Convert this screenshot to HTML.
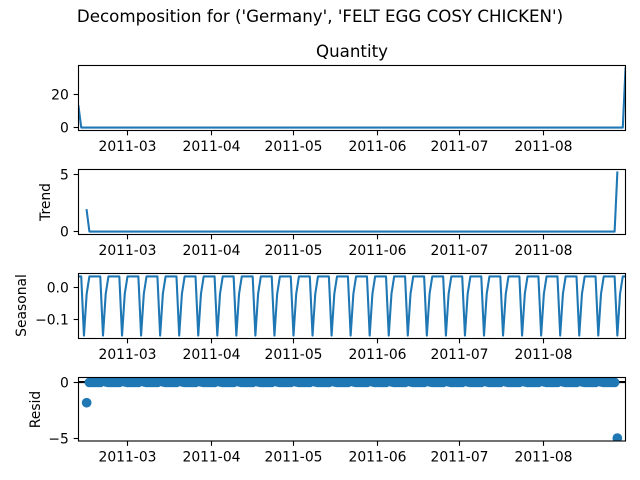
<!DOCTYPE html>
<html>
<head>
<meta charset="utf-8">
<title>Decomposition chart</title>
<style>
html,body{margin:0;padding:0;background:#fff;}
svg{display:block;font-family:"DejaVu Sans","Liberation Sans",sans-serif;}
</style>
</head>
<body>
<svg id="chart" xmlns="http://www.w3.org/2000/svg" width="640" height="480" viewBox="0 0 640 480">
<text x="320" y="22" text-anchor="middle" font-size="16.67" fill="#000">Decomposition for ('Germany', 'FELT EGG COSY CHICKEN')</text>
<text x="352" y="57" text-anchor="middle" font-size="16.67" fill="#000">Quantity</text>
<text transform="translate(50,202) rotate(-90)" text-anchor="middle" font-size="13.89" fill="#000">Trend</text>
<text transform="translate(26,305.5) rotate(-90)" text-anchor="middle" font-size="13.89" fill="#000">Seasonal</text>
<text transform="translate(40,409.5) rotate(-90)" text-anchor="middle" font-size="13.89" fill="#000">Resid</text>
</svg>
<script>
const startDate = '2011-02-11';
const xTickDates = ['2011-03-01','2011-04-01','2011-05-01','2011-06-01','2011-07-01','2011-08-01'];
const xTickLabels = ['2011-03','2011-04','2011-05','2011-06','2011-07','2011-08'];

const quantityTicks = [0, 20];
const quantityTickLabels = ['0', '20'];
const trendTicks = [0, 5];
const trendTickLabels = ['0', '5'];
const seasonalTicks = [0, -0.1];
const seasonalTickLabels = ['0.0', '\u22120.1'];
const residTicks = [0, -5];
const residTickLabels = ['0', '\u22125'];

const quantityValues = [
13,0,0,0,0,0,0,
0,0,0,0,0,0,0,
0,0,0,0,0,0,0,
0,0,0,0,0,0,0,
0,0,0,0,0,0,0,
0,0,0,0,0,0,0,
0,0,0,0,0,0,0,
0,0,0,0,0,0,0,
0,0,0,0,0,0,0,
0,0,0,0,0,0,0,
0,0,0,0,0,0,0,
0,0,0,0,0,0,0,
0,0,0,0,0,0,0,
0,0,0,0,0,0,0,
0,0,0,0,0,0,0,
0,0,0,0,0,0,0,
0,0,0,0,0,0,0,
0,0,0,0,0,0,0,
0,0,0,0,0,0,0,
0,0,0,0,0,0,0,
0,0,0,0,0,0,0,
0,0,0,0,0,0,0,
0,0,0,0,0,0,0,
0,0,0,0,0,0,0,
0,0,0,0,0,0,0,
0,0,0,0,0,0,0,
0,0,0,0,0,0,0,
0,0,0,0,0,0,0,
0,0,0,0,0,36];

const trendValues = [
null,null,null,1.857,0,0,0,
0,0,0,0,0,0,0,
0,0,0,0,0,0,0,
0,0,0,0,0,0,0,
0,0,0,0,0,0,0,
0,0,0,0,0,0,0,
0,0,0,0,0,0,0,
0,0,0,0,0,0,0,
0,0,0,0,0,0,0,
0,0,0,0,0,0,0,
0,0,0,0,0,0,0,
0,0,0,0,0,0,0,
0,0,0,0,0,0,0,
0,0,0,0,0,0,0,
0,0,0,0,0,0,0,
0,0,0,0,0,0,0,
0,0,0,0,0,0,0,
0,0,0,0,0,0,0,
0,0,0,0,0,0,0,
0,0,0,0,0,0,0,
0,0,0,0,0,0,0,
0,0,0,0,0,0,0,
0,0,0,0,0,0,0,
0,0,0,0,0,0,0,
0,0,0,0,0,0,0,
0,0,0,0,0,0,0,
0,0,0,0,0,0,0,
0,0,0,0,0,0,0,
0,0,5.143,null,null,null];

const seasonalValues = [
.0336,.0336,-.148,-.02,.0336,.0336,.0336,
.0336,.0336,-.148,-.02,.0336,.0336,.0336,
.0336,.0336,-.148,-.02,.0336,.0336,.0336,
.0336,.0336,-.148,-.02,.0336,.0336,.0336,
.0336,.0336,-.148,-.02,.0336,.0336,.0336,
.0336,.0336,-.148,-.02,.0336,.0336,.0336,
.0336,.0336,-.148,-.02,.0336,.0336,.0336,
.0336,.0336,-.148,-.02,.0336,.0336,.0336,
.0336,.0336,-.148,-.02,.0336,.0336,.0336,
.0336,.0336,-.148,-.02,.0336,.0336,.0336,
.0336,.0336,-.148,-.02,.0336,.0336,.0336,
.0336,.0336,-.148,-.02,.0336,.0336,.0336,
.0336,.0336,-.148,-.02,.0336,.0336,.0336,
.0336,.0336,-.148,-.02,.0336,.0336,.0336,
.0336,.0336,-.148,-.02,.0336,.0336,.0336,
.0336,.0336,-.148,-.02,.0336,.0336,.0336,
.0336,.0336,-.148,-.02,.0336,.0336,.0336,
.0336,.0336,-.148,-.02,.0336,.0336,.0336,
.0336,.0336,-.148,-.02,.0336,.0336,.0336,
.0336,.0336,-.148,-.02,.0336,.0336,.0336,
.0336,.0336,-.148,-.02,.0336,.0336,.0336,
.0336,.0336,-.148,-.02,.0336,.0336,.0336,
.0336,.0336,-.148,-.02,.0336,.0336,.0336,
.0336,.0336,-.148,-.02,.0336,.0336,.0336,
.0336,.0336,-.148,-.02,.0336,.0336,.0336,
.0336,.0336,-.148,-.02,.0336,.0336,.0336,
.0336,.0336,-.148,-.02,.0336,.0336,.0336,
.0336,.0336,-.148,-.02,.0336,.0336,.0336,
.0336,.0336,-.148,-.02,.0336,.0336];

const residValues = [
null,null,null,-1.84,-.0336,-.0336,-.0336,
-.0336,-.0336,.148,.02,-.0336,-.0336,-.0336,
-.0336,-.0336,.148,.02,-.0336,-.0336,-.0336,
-.0336,-.0336,.148,.02,-.0336,-.0336,-.0336,
-.0336,-.0336,.148,.02,-.0336,-.0336,-.0336,
-.0336,-.0336,.148,.02,-.0336,-.0336,-.0336,
-.0336,-.0336,.148,.02,-.0336,-.0336,-.0336,
-.0336,-.0336,.148,.02,-.0336,-.0336,-.0336,
-.0336,-.0336,.148,.02,-.0336,-.0336,-.0336,
-.0336,-.0336,.148,.02,-.0336,-.0336,-.0336,
-.0336,-.0336,.148,.02,-.0336,-.0336,-.0336,
-.0336,-.0336,.148,.02,-.0336,-.0336,-.0336,
-.0336,-.0336,.148,.02,-.0336,-.0336,-.0336,
-.0336,-.0336,.148,.02,-.0336,-.0336,-.0336,
-.0336,-.0336,.148,.02,-.0336,-.0336,-.0336,
-.0336,-.0336,.148,.02,-.0336,-.0336,-.0336,
-.0336,-.0336,.148,.02,-.0336,-.0336,-.0336,
-.0336,-.0336,.148,.02,-.0336,-.0336,-.0336,
-.0336,-.0336,.148,.02,-.0336,-.0336,-.0336,
-.0336,-.0336,.148,.02,-.0336,-.0336,-.0336,
-.0336,-.0336,.148,.02,-.0336,-.0336,-.0336,
-.0336,-.0336,.148,.02,-.0336,-.0336,-.0336,
-.0336,-.0336,.148,.02,-.0336,-.0336,-.0336,
-.0336,-.0336,.148,.02,-.0336,-.0336,-.0336,
-.0336,-.0336,.148,.02,-.0336,-.0336,-.0336,
-.0336,-.0336,.148,.02,-.0336,-.0336,-.0336,
-.0336,-.0336,.148,.02,-.0336,-.0336,-.0336,
-.0336,-.0336,.148,.02,-.0336,-.0336,-.0336,
-.0336,-.0336,-4.99,null,null,null];

const SVG_NS = 'http://www.w3.org/2000/svg';
const chart = document.getElementById('chart');
const BLUE = '#1f77b4';
const plotLeft = 78.5;
const plotRight = 625.5;
const DAY_MS = 86400000;
const startMs = Date.parse(startDate + 'T00:00:00Z');
const xSpanDays = quantityValues.length - 1;

function make(tag, attrs, parent, text) {
  const node = document.createElementNS(SVG_NS, tag);
  for (const key in attrs) node.setAttribute(key, attrs[key]);
  if (text !== undefined) node.textContent = text;
  (parent || chart).appendChild(node);
  return node;
}
function xByIndex(i) {
  return plotLeft + (i / xSpanDays) * (plotRight - plotLeft);
}
function xByDate(dateText) {
  return xByIndex((Date.parse(dateText + 'T00:00:00Z') - startMs) / DAY_MS);
}
function yScale(panel, v) {
  return panel.bottom - (v - panel.min) / (panel.max - panel.min) * (panel.bottom - panel.top);
}
function snap(v) {
  return Math.floor(v) + 0.5;
}

const panels = [
  {key: 'quantity', top: 65.5, bottom: 130.5, min: -1.8, max: 37.8, ticks: quantityTicks, labels: quantityTickLabels, values: quantityValues, kind: 'line'},
  {key: 'trend', top: 169.5, bottom: 234.5, min: -0.257, max: 5.4, ticks: trendTicks, labels: trendTickLabels, values: trendValues, kind: 'line'},
  {key: 'seasonal', top: 273.5, bottom: 338.5, min: -0.157, max: 0.0426, ticks: seasonalTicks, labels: seasonalTickLabels, values: seasonalValues, kind: 'line'},
  {key: 'resid', top: 377.5, bottom: 441, min: -5.247, max: 0.405, ticks: residTicks, labels: residTickLabels, values: residValues, kind: 'dots'}
];

const defs = make('defs', {});
panels.forEach(function (panel) {
  const clip = make('clipPath', {id: 'clip-' + panel.key}, defs);
  make('rect', {x: plotLeft, y: panel.top, width: plotRight - plotLeft, height: panel.bottom - panel.top}, clip);

  const group = make('g', {});
  
  

  const marks = make('g', {'clip-path': 'url(#clip-' + panel.key + ')'}, group);
  
  

  if (panel.kind === 'line') {
    let d = '';
    let pen = false;
    panel.values.forEach(function (v, i) {
      if (v === null) { pen = false; return; }
      d += (pen ? 'L' : 'M') + xByIndex(i).toFixed(2) + ' ' + yScale(panel, v).toFixed(2);
      pen = true;
    });
    const line = make('path', {d: d, fill: 'none', stroke: BLUE, 'stroke-width': 2.08, 'stroke-linejoin': 'round', 'stroke-linecap': 'square'}, marks);
    
    
  } else {
    const zeroLine = make('line', {x1: plotLeft, x2: plotRight, y1: yScale(panel, 0), y2: yScale(panel, 0), stroke: '#000', 'stroke-width': 2.08}, marks);
    
    
    panel.values.forEach(function (v, i) {
      if (v === null) return;
      const dot = make('circle', {cx: xByIndex(i).toFixed(2), cy: yScale(panel, v).toFixed(2), r: 4.86, fill: BLUE}, marks);
      
      
    });
  }

  const frame = make('rect', {x: plotLeft, y: panel.top, width: plotRight - plotLeft, height: panel.bottom - panel.top, fill: 'none', stroke: '#000', 'stroke-width': 1.11}, group);
  
  

  xTickDates.forEach(function (dateText, i) {
    const x = snap(xByDate(dateText));
    const tick = make('line', {x1: x, x2: x, y1: panel.bottom, y2: panel.bottom + 4.86, stroke: '#000', 'stroke-width': 1.11}, group);
    
    
    const label = make('text', {x: x, y: panel.bottom + 20.5, 'text-anchor': 'middle', 'font-size': 13.89, fill: '#000'}, group, xTickLabels[i]);
    
    
  });

  panel.ticks.forEach(function (v, i) {
    const y = snap(yScale(panel, v));
    const tick = make('line', {x1: plotLeft - 4.86, x2: plotLeft, y1: y, y2: y, stroke: '#000', 'stroke-width': 1.11}, group);
    
    
    const label = make('text', {x: 68.8, y: y + 5, 'text-anchor': 'end', 'font-size': 13.89, fill: '#000'}, group, panel.labels[i]);
    
    
  });
});
</script>
</body>
</html>
